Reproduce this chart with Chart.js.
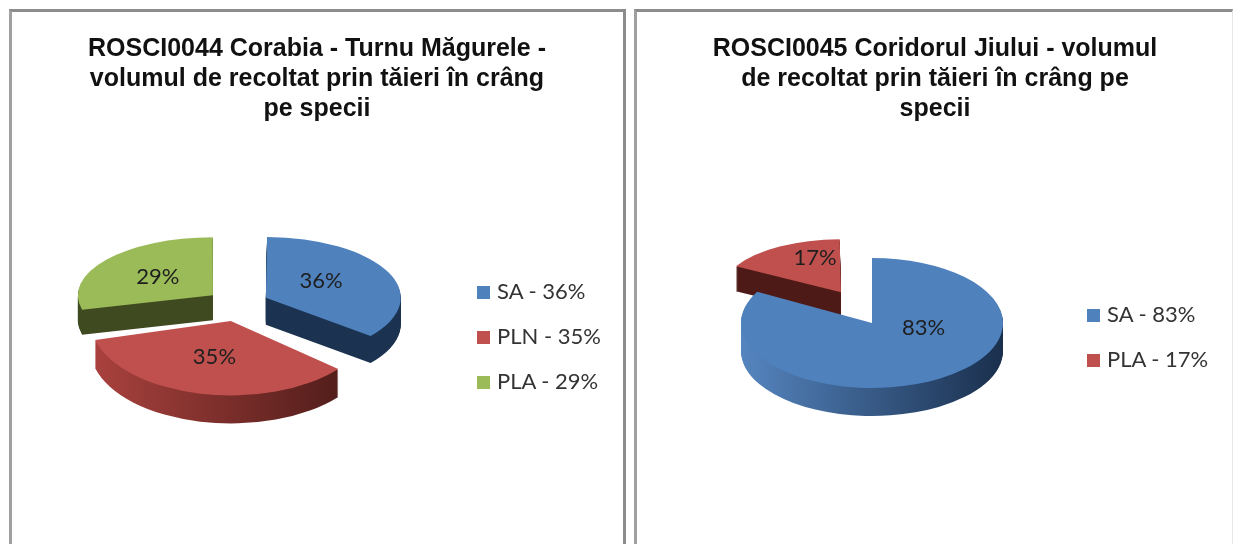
<!DOCTYPE html>
<html>
<head>
<meta charset="utf-8">
<title>ROSCI0044 / ROSCI0045</title>
<script src="https://cdn.jsdelivr.net/npm/chart.js@4/dist/chart.umd.min.js"></script>
<style>
  html, body { margin: 0; padding: 0; background: #fff; }
  body { position: relative; width: 1233px; height: 544px; overflow: hidden; }
  #page { position: absolute; left: 0; top: 0; width: 1233px; height: 544px; overflow: hidden; filter: blur(0.5px); }
  .panel { position: absolute; top: 9px; height: 535px; box-sizing: border-box; border-top: 3px solid #8c8c8c; }
  #panelLeft { left: 9px; width: 617px; border-left: 3px solid #a0a0a0; border-right: 3px solid #8c8c8c; }
  #panelRight { left: 634px; width: 599px; border-left: 3px solid #a0a0a0; border-right: 1px solid #e6e6e6; }
  canvas { position: absolute; left: 0; top: 0; }
  .chartTitle { position: absolute; text-align: center; font: bold 25px/30px "Liberation Sans", Arial, sans-serif; color: #111; white-space: nowrap; }
  .legendRow { position: absolute; font: 22px/24px Lato, sans-serif; color: #333; white-space: nowrap; }
  .legendRow i { display: inline-block; width: 13px; height: 13px; margin-right: 7px; }
</style>
</head>
<body>
<div id="page">
<div class="panel" id="panelLeft"></div>
<div class="panel" id="panelRight"></div>
<canvas id="pieLeft" width="626" height="544"></canvas>
<canvas id="pieRight" width="699" height="600" style="left:534px"></canvas>
</div>

<script>
'use strict'

// valeurs
const leftSpecies = ['SA', 'PLN', 'PLA'];
const leftValues = [36, 35, 29];
const leftTitle = ['ROSCI0044 Corabia - Turnu Măgurele -', 'volumul de recoltat prin tăieri în crâng', 'pe specii'];

const rightSpecies = ['SA', 'PLA'];
const rightValues = [83, 17];
const rightTitle = ['ROSCI0045 Coridorul Jiului - volumul', 'de recoltat prin tăieri în crâng pe', 'specii'];

// dessine les parts en "3D" : chaque part a son écrasement, puis on empile les côtés
const pie3d = {
  id: 'pie3d',
  beforeDatasetsDraw(chart, args, opts) {
    const ctx = chart.ctx;
    const arcs = chart.getDatasetMeta(0).data;
    const cy = arcs[0].y;

    opts.order.forEach((i) => {
      const place = (dy) => {
        ctx.translate(opts.nudge[i][0], cy + opts.nudge[i][1] + dy);
        ctx.scale(1, opts.squash[i]);
        ctx.translate(0, -cy);
      };
      const arc = arcs[i];
      const r = arc.outerRadius;
      const grad = ctx.createLinearGradient(arc.x - r, 0, arc.x + r, 0);
      grad.addColorStop(0, opts.sideLeft[i]);
      grad.addColorStop(1, opts.sideRight[i]);

      const top = Object.create(arc);
      top.outerRadius = r * opts.radius[i];
      const side = Object.create(top);
      side.options = Object.assign({}, arc.options, { backgroundColor: grad });

      for (let d = opts.depth[i]; d > 0; d--) {
        ctx.save();
        place(d);
        side.draw(ctx);
        ctx.restore();
      }
      ctx.save();
      place(0);
      top.draw(ctx);
      ctx.restore();
    });
    return false;
  },
  // beforeDatasetsDraw renvoie false, donc les étiquettes se font ici
  afterDraw(chart, args, opts) {
    const ctx = chart.ctx;
    const arcs = chart.getDatasetMeta(0).data;
    const values = chart.data.datasets[0].data;
    const cy = arcs[0].y;
    ctx.save();
    ctx.font = '22px Lato, sans-serif';
    ctx.fillStyle = '#1e1e1e';
    ctx.textAlign = 'center';
    ctx.textBaseline = 'middle';
    arcs.forEach((arc, i) => {
      const mid = (arc.startAngle + arc.endAngle) / 2;
      const off = arc.options.offset / 4;
      const rad = off + arc.outerRadius * opts.radius[i] * opts.labelPos[i];
      const x = arc.x + opts.nudge[i][0] + Math.cos(mid) * rad + opts.labelShift[i][0];
      const y = cy + opts.nudge[i][1] + Math.sin(mid) * rad * opts.squash[i] + opts.labelShift[i][1];
      ctx.fillText(values[i] + '%', x, y);
    });
    ctx.restore();
  }
};

function drawPie(id, species, values, colors, offsets, padding, pieOpts) {
  new Chart(document.getElementById(id), {
    type: 'pie',
    data: {
      labels: species,
      datasets: [{
        data: values,
        backgroundColor: colors,
        borderWidth: 0,
        offset: offsets
      }]
    },
    options: {
      responsive: false,
      animation: false,
      layout: { padding: padding },
      plugins: {
        legend: { display: false },
        tooltip: { enabled: false },
        pie3d: pieOpts
      }
    },
    plugins: [pie3d]
  });
}

function addTitle(lines, centerX, top) {
  const el = document.createElement('div');
  el.className = 'chartTitle';
  el.style.left = (centerX - 300) + 'px';
  el.style.width = '600px';
  el.style.top = top + 'px';
  el.innerHTML = lines.join('<br>');
  document.getElementById('page').appendChild(el);
}

function addLegend(species, values, colors, x, firstY, step) {
  species.forEach((name, i) => {
    const row = document.createElement('div');
    row.className = 'legendRow';
    row.style.left = x + 'px';
    row.style.top = (firstY + i * step - 12) + 'px';
    row.innerHTML = '<i style="background:' + colors[i] + '"></i>' + name + ' - ' + values[i] + '%';
    document.getElementById('page').appendChild(row);
  });
}

const leftColors = ['#4f81bd', '#c0504d', '#9bbb59'];
const rightColors = ['#4f81bd', '#c0504d'];

drawPie('pieLeft', leftSpecies, leftValues, leftColors, [132, 132, 132],
  { left: 36, right: 190, top: 104, bottom: 40 },
  {
    order: [1, 2, 0],
    squash: [0.45, 0.53, 0.43],
    radius: [0.95, 1, 1],
    nudge: [[0, 0], [2, 0], [3, 0]],
    depth: [27, 28, 25],
    sideLeft: ['#1b3350', '#a8413d', '#3f4a20'],
    sideRight: ['#1b3350', '#4a1a17', '#3f4a20'],
    labelPos: [0.48, 0.56, 0.52],
    labelShift: [[0, -5], [0, -3], [0, 0]]
  });

drawPie('pieRight', rightSpecies, rightValues, rightColors, [0, 252],
  { left: 81, right: 104, top: 66, bottom: 20 },
  {
    order: [1, 0],
    squash: [0.496, 0.44],
    radius: [1, 0.86],
    nudge: [[0, 0], [1, -7]],
    depth: [28, 25],
    sideLeft: ['#5585bf', '#4e1a17'],
    sideRight: ['#1a2f4d', '#4e1a17'],
    labelPos: [0.4, 0.45],
    labelShift: [[25, -17], [0, -15]]
  });

addTitle(leftTitle, 317, 32);
addTitle(rightTitle, 935, 32);
addLegend(leftSpecies, leftValues, leftColors, 477, 291, 45);
addLegend(rightSpecies, rightValues, rightColors, 1087, 314, 45);
</script>
</body>
</html>
